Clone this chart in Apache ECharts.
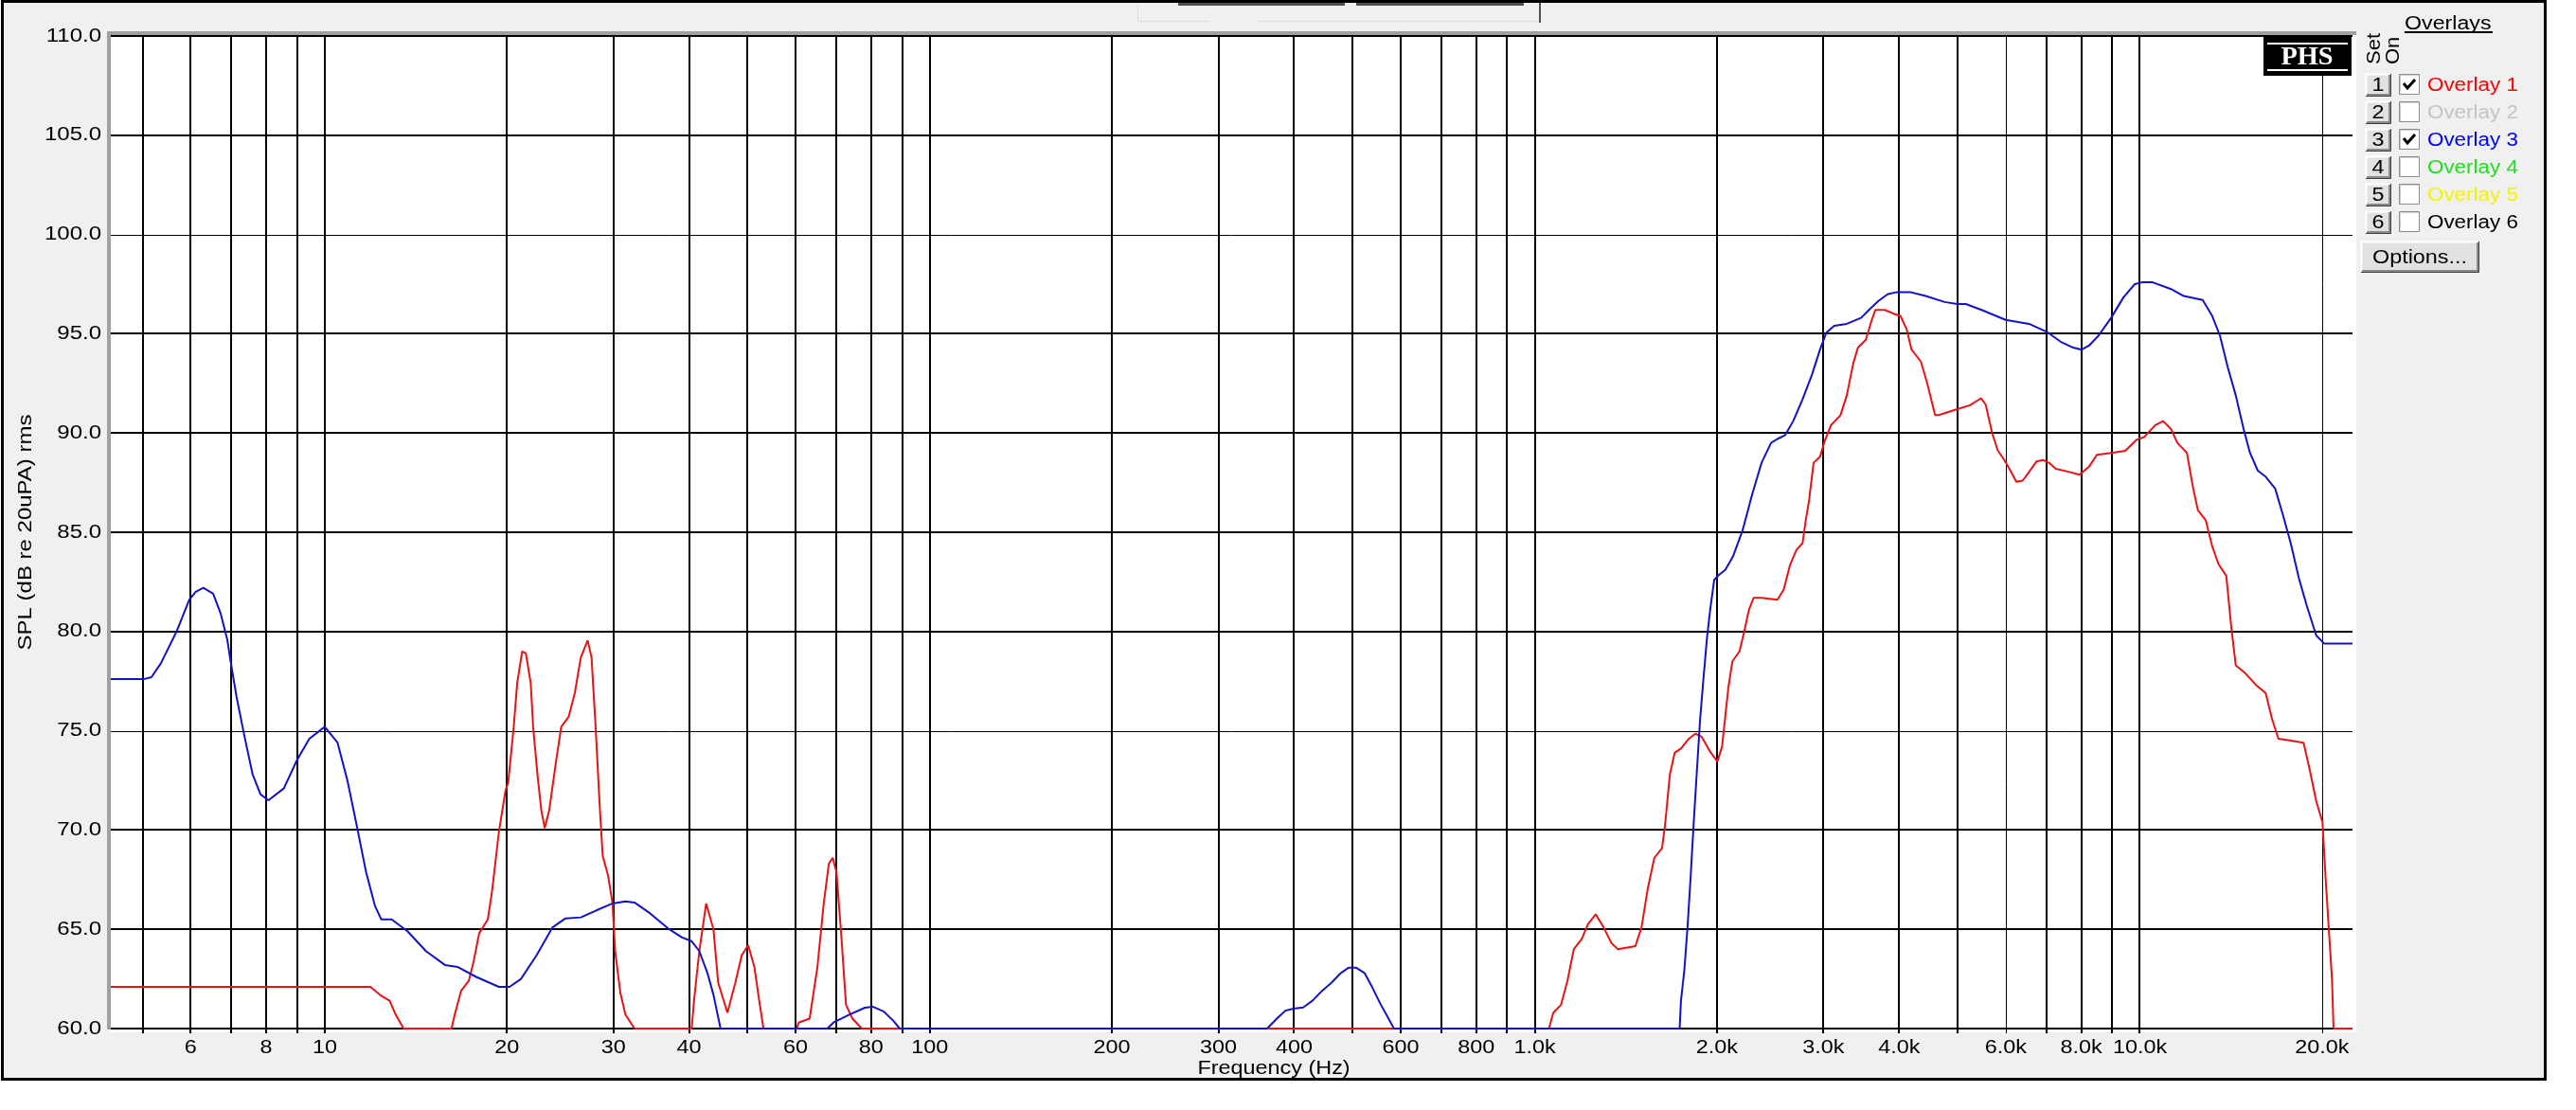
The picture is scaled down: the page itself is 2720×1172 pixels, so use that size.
<!DOCTYPE html>
<html>
<head>
<meta charset="utf-8">
<script src="https://cdn.jsdelivr.net/npm/echarts@6/dist/echarts.min.js"></script>
<style>
  html, body { margin: 0; padding: 0; background: #fff; }
  #chart { width: 2720px; height: 1172px; }
</style>
</head>
<body>
<div id="chart"></div>
<script>
  // frequency response overlays, SPL vs frequency (log)
  const X_MIN = 4.43, X_MAX = 22460;
  const Y_MIN = 60, Y_MAX = 110;

  const X_GRID = [5, 6, 7, 8, 9, 10, 20, 30, 40, 50, 60, 70, 80, 90, 100, 200, 300, 400, 500, 600, 700, 800, 900,
    1000, 2000, 3000, 4000, 5000, 6000, 7000, 8000, 9000, 10000, 20000];
  const X_LABEL_FREQS = [6, 8, 10, 20, 30, 40, 60, 80, 100, 200, 300, 400, 600, 800, 1000, 2000, 3000, 4000, 6000, 8000, 10000, 20000];
  const X_LABELS = ["6", "8", "10", "20", "30", "40", "60", "80", "100", "200", "300", "400", "600", "800",
    "1.0k", "2.0k", "3.0k", "4.0k", "6.0k", "8.0k", "10.0k", "20.0k"];
  const Y_TICKS = [60, 65, 70, 75, 80, 85, 90, 95, 100, 105, 110];

  const OVERLAY_NAMES = ["Overlay 1", "Overlay 2", "Overlay 3", "Overlay 4", "Overlay 5", "Overlay 6"];
  const OVERLAY_ON = [true, false, true, false, false, false];

  // Overlay 1 (red)
  const overlay1 = [
    [4.43, 62.1], [11.9, 62.1], [12.4, 61.65], [12.8, 61.4], [13.1, 60.7], [13.5, 60], [16.2, 60], [16.4, 60.7],
    [16.8, 61.9], [17.3, 62.4], [17.6, 63.3], [18.0, 64.8], [18.6, 65.5], [18.9, 66.9], [19.4, 69.9], [19.9, 72.0],
    [20.1, 72.4], [20.5, 75.0], [20.8, 77.4], [21.2, 79.0], [21.5, 78.9], [21.9, 77.4], [22.1, 75.2], [22.5, 72.6],
    [22.8, 71.0], [23.1, 70.1], [23.5, 71.0], [24.1, 73.4], [24.6, 75.2], [25.3, 75.7], [25.9, 76.9], [26.5, 78.7],
    [27.2, 79.55], [27.6, 78.7], [28.0, 75.5], [28.5, 71.0], [28.8, 68.7], [29.4, 67.7], [29.9, 66.3], [30.2, 63.9],
    [30.8, 61.8], [31.4, 60.7], [32.5, 60], [40.4, 60], [40.8, 61.5], [41.6, 63.9], [42.7, 66.3], [43.9, 65.0],
    [44.7, 62.3], [46.3, 60.8], [47.7, 62.3], [48.9, 63.7], [50.1, 64.2], [51.3, 63.1], [52.2, 61.5], [53.1, 60],
    [60.3, 60], [60.7, 60.3], [63.3, 60.5], [65.2, 63.1], [66.8, 66.3], [68.1, 68.3], [69.1, 68.6], [70.1, 67.9],
    [71.4, 64.7], [72.7, 61.2], [74.5, 60.5], [77.2, 60], [1055, 60], [1073, 60.8], [1105, 61.2], [1132, 62.4],
    [1160, 64.0], [1195, 64.5], [1224, 65.25], [1261, 65.75], [1299, 65.1], [1339, 64.3], [1372, 64.0], [1466, 64.15],
    [1501, 65.1], [1538, 67.1], [1576, 68.6], [1623, 69.1], [1642, 70.3], [1672, 72.8], [1703, 73.9], [1744, 74.1],
    [1797, 74.6], [1842, 74.85], [1887, 74.7], [1944, 74.0], [2003, 73.45], [2039, 74.2], [2064, 75.7], [2089, 77.2],
    [2121, 78.5], [2179, 79.0], [2219, 80.0], [2259, 81.1], [2300, 81.7], [2370, 81.7], [2517, 81.6], [2578, 82.1],
    [2641, 83.35], [2705, 84.1], [2770, 84.45], [2804, 85.6], [2838, 86.55], [2889, 88.5], [2960, 88.8], [3014, 89.6],
    [3087, 90.4], [3200, 90.9], [3278, 91.9], [3359, 93.5], [3420, 94.3], [3524, 94.7], [3588, 95.5], [3653, 96.2],
    [3787, 96.2], [3926, 96.0], [4021, 95.9], [4119, 95.2], [4194, 94.2], [4346, 93.6], [4452, 92.5], [4587, 90.9],
    [4646, 90.9], [4756, 91.0], [4991, 91.2], [5238, 91.4], [5464, 91.75], [5562, 91.43], [5699, 90.0], [5822, 89.13],
    [5980, 88.6], [6115, 88.09], [6250, 87.54], [6400, 87.6], [6545, 88.0], [6750, 88.57], [6915, 88.64], [7083, 88.49],
    [7260, 88.2], [7600, 88.06], [7948, 87.9], [8239, 88.3], [8489, 88.9], [8963, 89.0], [9460, 89.1], [9867, 89.65],
    [10167, 89.8], [10605, 90.4], [10926, 90.6], [11259, 90.2], [11535, 89.5], [11959, 89.0], [12251, 87.2],
    [12474, 86.1], [12853, 85.6], [13167, 84.3], [13484, 83.4], [13895, 82.8], [14146, 80.35], [14403, 78.3],
    [14933, 77.9], [15570, 77.3], [16140, 76.9], [16535, 75.6], [16940, 74.6], [17771, 74.5], [18645, 74.4],
    [19098, 73.0], [19565, 71.45], [20035, 70.4], [20282, 67.5], [20526, 65.0], [20773, 62.5], [20898, 60], [22460, 60]
  ];

  // Overlay 3 (blue)
  const overlay3 = [
    [4.43, 77.6], [5.02, 77.6], [5.17, 77.7], [5.36, 78.4], [5.69, 80.0], [5.97, 81.6], [6.12, 82.0], [6.30, 82.2],
    [6.54, 81.9], [6.73, 80.9], [6.90, 79.6], [6.98, 78.6], [7.15, 76.7], [7.37, 74.7], [7.60, 72.8], [7.83, 71.8],
    [8.07, 71.5], [8.56, 72.1], [8.99, 73.5], [9.43, 74.6], [10.0, 75.2], [10.5, 74.4], [10.9, 72.5], [11.3, 70.2],
    [11.7, 67.9], [12.1, 66.2], [12.4, 65.5], [12.9, 65.5], [13.7, 64.9], [14.7, 63.9], [15.8, 63.2], [16.6, 63.1],
    [17.8, 62.6], [19.4, 62.1], [20.2, 62.1], [21.1, 62.5], [22.4, 63.7], [23.8, 65.1], [25.0, 65.55], [26.5, 65.6],
    [28.1, 65.95], [29.9, 66.3], [31.4, 66.4], [32.5, 66.35], [34.5, 65.8], [37.1, 65.0], [38.9, 64.6], [40.4, 64.4],
    [41.6, 63.9], [42.9, 62.8], [43.9, 61.7], [45.1, 60], [67.7, 60], [69.3, 60.3], [73.6, 60.7], [78.1, 61.05],
    [80.5, 61.1], [84.0, 60.85], [87.0, 60.4], [89.2, 60], [361, 60], [376, 60.55], [387, 60.9], [399, 61.0],
    [414, 61.06], [429, 61.4], [445, 61.9], [461, 62.3], [478, 62.8], [492, 63.06], [507, 63.06], [523, 62.8],
    [539, 62.06], [555, 61.27], [572, 60.55], [585, 60], [1735, 60], [1744, 61.4], [1766, 62.9], [1788, 65.1],
    [1809, 67.6], [1830, 70.3], [1853, 73.0], [1875, 75.5], [1897, 77.4], [1925, 79.65], [1949, 81.1], [1979, 82.6],
    [2015, 82.85], [2064, 83.1], [2127, 83.8], [2205, 85.1], [2286, 86.9], [2370, 88.5], [2457, 89.5], [2517, 89.7],
    [2593, 89.9], [2673, 90.6], [2770, 91.7], [2872, 92.95], [2960, 94.2], [3032, 95.05], [3125, 95.4], [3278, 95.5],
    [3461, 95.8], [3566, 96.2], [3697, 96.65], [3833, 97.0], [3973, 97.1], [4170, 97.1], [4426, 96.9], [4756, 96.6],
    [4991, 96.5], [5157, 96.5], [5475, 96.2], [6000, 95.7], [6557, 95.5], [7015, 95.1], [7396, 94.6], [7759, 94.3],
    [8014, 94.2], [8239, 94.4], [8542, 94.9], [8963, 95.8], [9403, 96.85], [9808, 97.5], [10106, 97.6], [10477, 97.6],
    [11259, 97.25], [11817, 96.9], [12701, 96.7], [13167, 95.9], [13565, 94.9], [13975, 93.3], [14403, 91.9],
    [14841, 90.2], [15205, 89.0], [15667, 88.1], [16140, 87.8], [16734, 87.2], [17247, 85.85], [17771, 84.4],
    [18312, 82.7], [18871, 81.3], [19565, 79.8], [20160, 79.4], [22460, 79.4]
  ];

  const RED = "#ea1212", BLUE = "#1212c8";
  const OVERLAY_COLORS = ["#ff0000", "#c4c4c4", "#0000ff", "#22dd22", "#f4f400", "#000000"];
  const THIN_X = [6000, 20000];
  const THIN_Y = [75, 100];
  const FONT = "20px 'Liberation Sans', Arial, sans-serif";
  const SX = 1.17;

  function txt(x, y, text, opts) {
    opts = opts || {};
    const align = opts.align || "left";
    const va = opts.va || "middle";
    return {
      type: "text", x, y, z: opts.z || 50, rotation: opts.rotation || 0,
      scaleX: opts.sx || SX, scaleY: 1,
      style: {
        text, fill: opts.fill || "#000", font: opts.font || FONT,
        align, verticalAlign: va, textAlign: align, textVerticalAlign: va
      }
    };
  }

  function button(x, y, w, h, label) {
    return [
      { type: "rect", z: 40, shape: { x, y, width: w, height: h }, style: { fill: "#e1e1e1" } },
      { type: "polyline", z: 41, shape: { points: [[x + 0.5, y + h], [x + 0.5, y + 0.5], [x + w, y + 0.5]] }, style: { stroke: "#ffffff", lineWidth: 2, fill: null } },
      { type: "polyline", z: 41, shape: { points: [[x + 1, y + h - 1], [x + w - 1, y + h - 1], [x + w - 1, y + 1]] }, style: { stroke: "#8a8a8a", lineWidth: 2, fill: null } },
      { type: "polyline", z: 41, shape: { points: [[x, y + h + 0.5], [x + w + 0.5, y + h + 0.5], [x + w + 0.5, y]] }, style: { stroke: "#404040", lineWidth: 1, fill: null } },
      txt(x + w / 2, y + h / 2 + 1, label, { align: "center", z: 42 })
    ];
  }

  const graphics = [];
  // window panel
  graphics.push({ type: "rect", z: -100, shape: { x: 2.5, y: 1.5, width: 2685, height: 1138 }, style: { fill: "#f0f0f0", stroke: "#000", lineWidth: 3 } });
  // partial toolbar at the top
  graphics.push({ type: "rect", z: -90, shape: { x: 1244, y: 3, width: 176, height: 3 }, style: { fill: "#505050" } });
  graphics.push({ type: "rect", z: -90, shape: { x: 1432, y: 3, width: 177, height: 3 }, style: { fill: "#505050" } });
  graphics.push({ type: "polyline", z: -90, shape: { points: [[1201.5, 4], [1201.5, 22.5], [1626, 22.5]] }, style: { stroke: "#d8dde4", lineWidth: 1, fill: null } });
  graphics.push({ type: "rect", z: -90, shape: { x: 1625, y: 3, width: 2, height: 21 }, style: { fill: "#505050" } });
  graphics.push(txt(1284, 27, "Edit", { va: "bottom", z: -91, sx: 1.15 }));
  graphics.push({ type: "rect", z: -89, shape: { x: 1278, y: 6, width: 50, height: 17 }, style: { fill: "#f0f0f0" } });
  // plot well
  graphics.push({ type: "rect", z: -80, shape: { x: 116, y: 36, width: 2372, height: 1054 }, style: { fill: "#ffffff" } });
  graphics.push({ type: "rect", z: -79, shape: { x: 113, y: 33, width: 2375, height: 4 }, style: { fill: "#a0a0a0" } });
  graphics.push({ type: "rect", z: -79, shape: { x: 113, y: 33, width: 4, height: 1054 }, style: { fill: "#a0a0a0" } });
  // axis titles
  graphics.push(txt(27, 562, "SPL (dB re 20uPA) rms", { align: "center", rotation: Math.PI / 2, sx: 1.2 }));
  graphics.push(txt(1345, 1128, "Frequency (Hz)", { align: "center", sx: 1.17 }));
  // PHS logo
  graphics.push({ type: "rect", z: 60, shape: { x: 2390, y: 39, width: 93, height: 41 }, style: { fill: "#000" } });
  graphics.push({ type: "rect", z: 61, shape: { x: 2394, y: 45, width: 85, height: 2 }, style: { fill: "#fff" } });
  graphics.push({ type: "rect", z: 61, shape: { x: 2394, y: 73, width: 85, height: 2 }, style: { fill: "#fff" } });
  graphics.push(txt(2436, 61, "PHS", { align: "center", z: 62, sx: 1.05, fill: "#fff", font: "bold 27px 'Liberation Serif', 'Times New Roman', serif" }));
  // overlays panel
  graphics.push(txt(2539, 25, "Overlays", { sx: 1.16 }));
  graphics.push({ type: "rect", z: 50, shape: { x: 2539, y: 33, width: 93, height: 2 }, style: { fill: "#000" } });
  graphics.push(txt(2507, 68, "Set", { rotation: Math.PI / 2, sx: 1.1 }));
  graphics.push(txt(2527, 68, "On", { rotation: Math.PI / 2, sx: 1.1 }));
  OVERLAY_NAMES.forEach((name, i) => {
    const cy = 89 + i * 29;
    button(2498, cy - 11, 26, 23, String(i + 1)).forEach((g) => graphics.push(g));
    graphics.push({ type: "rect", z: 40, shape: { x: 2533.5, y: cy - 10.5, width: 21, height: 21 }, style: { fill: "#fff", stroke: "#8c8c8c", lineWidth: 1 } });
    graphics.push({ type: "polyline", z: 40, shape: { points: [[2534.5, cy + 10], [2534.5, cy - 9.5], [2554, cy - 9.5]] }, style: { stroke: "#d0d0d0", lineWidth: 1, fill: null } });
    if (OVERLAY_ON[i]) {
      graphics.push({ type: "polyline", z: 41, shape: { points: [[2538, cy - 1], [2542, cy + 4], [2550, cy - 5]] }, style: { stroke: "#000", lineWidth: 3, fill: null } });
    }
    graphics.push(txt(2563, cy + 1, name, { fill: OVERLAY_COLORS[i], sx: 1.12 }));
  });
  button(2493, 255, 124, 32, "Options...").forEach((g) => graphics.push(g));

  function vGrid(params, api) {
    const f = api.value(0);
    const t = api.coord([f, Y_MAX]), b = api.coord([f, Y_MIN]);
    const w = THIN_X.includes(f) ? 1 : 2;
    const x = w === 1 ? Math.round(t[0]) + 0.5 : Math.round(t[0]);
    return { type: "line", shape: { x1: x, y1: t[1] - 1, x2: x, y2: b[1] + 5 }, style: { stroke: "#000", lineWidth: w } };
  }

  function hGrid(params, api) {
    const v = api.value(1);
    const l = api.coord([X_MIN, v]), r = api.coord([X_MAX, v]);
    const w = THIN_Y.includes(v) ? 1 : 2;
    const y = w === 1 ? Math.round(l[1]) + 0.5 : Math.round(l[1]);
    return { type: "line", shape: { x1: l[0], y1: y, x2: r[0], y2: y }, style: { stroke: "#000", lineWidth: w } };
  }

  function xLabel(params, api) {
    const p = api.coord([api.value(0), Y_MIN]);
    return txt(p[0], p[1] + 20, X_LABELS[params.dataIndex], { align: "center", sx: 1.17 });
  }

  function yLabel(params, api) {
    const p = api.coord([X_MIN, api.value(1)]);
    return txt(107, p[1], api.value(1).toFixed(1), { align: "right", sx: 1.2 });
  }

  const chart = echarts.init(document.getElementById("chart"), null, { renderer: "canvas" });
  chart.setOption({
    backgroundColor: "#ffffff",
    animation: false,
    grid: { left: 117, right: 236, top: 38, bottom: 86, containLabel: false },
    xAxis: {
      type: "log", logBase: 10, min: X_MIN, max: X_MAX,
      axisLine: { show: false }, axisTick: { show: false }, axisLabel: { show: false }, splitLine: { show: false }
    },
    yAxis: {
      type: "value", min: Y_MIN, max: Y_MAX, interval: 5,
      axisLine: { show: false }, axisTick: { show: false }, axisLabel: { show: false }, splitLine: { show: false }
    },
    graphic: graphics,
    series: [
      { type: "custom", renderItem: vGrid, data: X_GRID.map((f) => [f, Y_MIN]), silent: true, z: 1 },
      { type: "custom", renderItem: hGrid, data: Y_TICKS.map((v) => [X_MIN, v]), silent: true, z: 1 },
      { type: "custom", renderItem: xLabel, data: X_LABEL_FREQS.map((f) => [f, Y_MIN]), silent: true, z: 1 },
      { type: "custom", renderItem: yLabel, data: Y_TICKS.map((v) => [X_MIN, v]), silent: true, z: 1 },
      { type: "line", name: "Overlay 1", data: overlay1, showSymbol: false, symbol: "none", z: 3,
        lineStyle: { color: RED, width: 2 }, itemStyle: { color: RED } },
      { type: "line", name: "Overlay 3", data: overlay3, showSymbol: false, symbol: "none", z: 3,
        lineStyle: { color: BLUE, width: 2 }, itemStyle: { color: BLUE } }
    ]
  });
</script>
</body>
</html>
